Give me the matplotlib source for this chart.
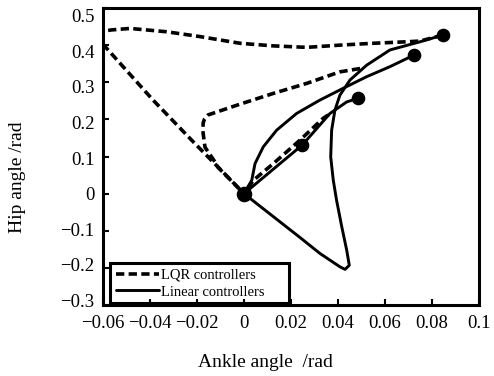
import matplotlib
matplotlib.use("Agg")
import matplotlib.pyplot as plt
from matplotlib.patches import Rectangle
from matplotlib.transforms import ScaledTranslation

plt.rcParams['font.family'] = ['Liberation Serif', 'DejaVu Serif']

# LQR controller trajectories (dashed)
lqr_a_x = [0.0846, 0.0749, 0.0692, 0.0550, 0.0408, 0.0267, 0.0125, -0.0017, -0.0187,
           -0.0329, -0.0485, -0.0563, -0.063, -0.063, -0.0591, -0.0387, -0.0209,
           -0.0111, 0.0]
lqr_a_y = [0.427, 0.411, 0.409, 0.405, 0.400, 0.394, 0.398, 0.405, 0.423,
           0.436, 0.445, 0.441, 0.435, 0.405, 0.396, 0.252, 0.135,
           0.072, 0.0]
lqr_b_x = [0.0494, 0.0408, 0.0267, 0.0125, -0.0017, -0.0153, -0.0168, -0.0174,
           -0.0174, -0.0166, -0.0123, -0.0111, 0.0]
lqr_b_y = [0.337, 0.328, 0.297, 0.270, 0.241, 0.212, 0.201, 0.190,
           0.163, 0.125, 0.085, 0.071, 0.0]
lqr_c_x = [0.0359, 0.0337, 0.0238, 0.0125, 0.0040, 0.0]
lqr_c_y = [0.212, 0.203, 0.144, 0.081, 0.036, 0.0]

# Linear controller trajectories (solid)
lin_a_x = [0.0, 0.0248, 0.0366, 0.0437, 0.0486]
lin_a_y = [0.0, 0.131, 0.216, 0.247, 0.257]
lin_b_x = [0.0, 0.0033, 0.0047, 0.0082, 0.0139, 0.0224, 0.0323, 0.0423, 0.0522,
           0.0621, 0.0723]
lin_b_y = [0.0, 0.036, 0.081, 0.126, 0.171, 0.216, 0.252, 0.284, 0.315,
           0.342, 0.373]
lin_c_x = [0.0846, 0.0749, 0.0621, 0.0522, 0.0451, 0.0408, 0.0387, 0.0373, 0.0369,
           0.0380, 0.0394, 0.0416, 0.0437, 0.0448, 0.0430, 0.0408, 0.0323, 0.0238, 0.0]
lin_c_y = [0.427, 0.409, 0.387, 0.346, 0.306, 0.265, 0.225, 0.171, 0.099,
           0.036, -0.018, -0.089, -0.152, -0.193, -0.204, -0.197, -0.161, -0.118, 0.0]

# initial states and the equilibrium
start_x = [0.0846, 0.0723, 0.0486, 0.0248]
start_y = [0.427, 0.373, 0.257, 0.131]
origin_x = [0.0]
origin_y = [0.0]

x_ticks = [-0.06, -0.04, -0.02, 0, 0.02, 0.04, 0.06, 0.08, 0.1]
x_labels = ['\u22120.06', '\u22120.04', '\u22120.02', '0', '0.02', '0.04', '0.06', '0.08', '0.1']
y_ticks = [0.5, 0.4, 0.3, 0.2, 0.1, 0, -0.1, -0.2, -0.3]
y_labels = ['0.5', '0.4', '0.3', '0.2', '0.1', '0', '\u22120.1', '\u22120.2', '\u22120.3']

fig = plt.figure(figsize=(4.94, 3.76), dpi=100)
ax = fig.add_axes([0.2085, 0.1888, 0.7611, 0.7899])

dash = (0, (2.3, 1.2))
kw_d = dict(color='black', lw=2.6, linestyle=dash, dash_joinstyle='round')
kw_s = dict(color='black', lw=2.1, solid_joinstyle='round', solid_capstyle='round')
ax.plot(lqr_a_x, lqr_a_y, label='LQR controllers', **kw_d)
ax.plot(lqr_b_x, lqr_b_y, **kw_d)
ax.plot(lqr_c_x, lqr_c_y, **kw_d)

ax.plot(lin_a_x, lin_a_y, label='Linear controllers', **kw_s)
ax.plot(lin_b_x, lin_b_y, **kw_s)
ax.plot(lin_c_x, lin_c_y, **kw_s)

ax.plot(start_x, start_y, 'o', color='black', ms=8.8, zorder=5)
ax.plot(origin_x, origin_y, 'o', color='black', ms=10.2, zorder=5)

ax.set_xlim(-0.06, 0.1)
ax.set_ylim(-0.3, 0.5)
ax.set_xticks(x_ticks)
ax.set_xticklabels(x_labels)
ax.set_yticks(y_ticks)
ax.set_yticklabels(y_labels)
ax.tick_params(direction='in', length=4, width=1.5, labelsize=13.5, colors='black')
ax.tick_params(axis='x', pad=7)
ax.tick_params(axis='y', pad=6)

# the original's y labels sit a little closer together than its ticks
for lbl, v in zip(ax.get_yticklabels(), y_ticks):
    lbl.set_transform(lbl.get_transform() + ScaledTranslation(0, -0.15 * v, fig.dpi_scale_trans))

for s in ax.spines.values():
    s.set_linewidth(2.2)

ax.set_xlabel('Ankle angle  /rad', fontsize=14)
ax.xaxis.set_label_coords(0.431, -0.165)
ax.set_ylabel('Hip angle /rad', fontsize=14)
ax.yaxis.set_label_coords(-0.205, 0.431)

# legend: text without frame, frame drawn as a box in axes coordinates
leg = ax.legend(loc='lower left', bbox_to_anchor=(0.028, 0.012), fontsize=10.5,
                frameon=False, handlelength=2.9, handletextpad=0.15,
                borderpad=0.2, labelspacing=0.25, borderaxespad=0.0)
ax.add_patch(Rectangle((0.0186, 0.0067), 0.476, 0.135, transform=ax.transAxes,
                       fill=False, edgecolor='black', lw=2.2, zorder=6))

fig.savefig('out.png', dpi=100)
